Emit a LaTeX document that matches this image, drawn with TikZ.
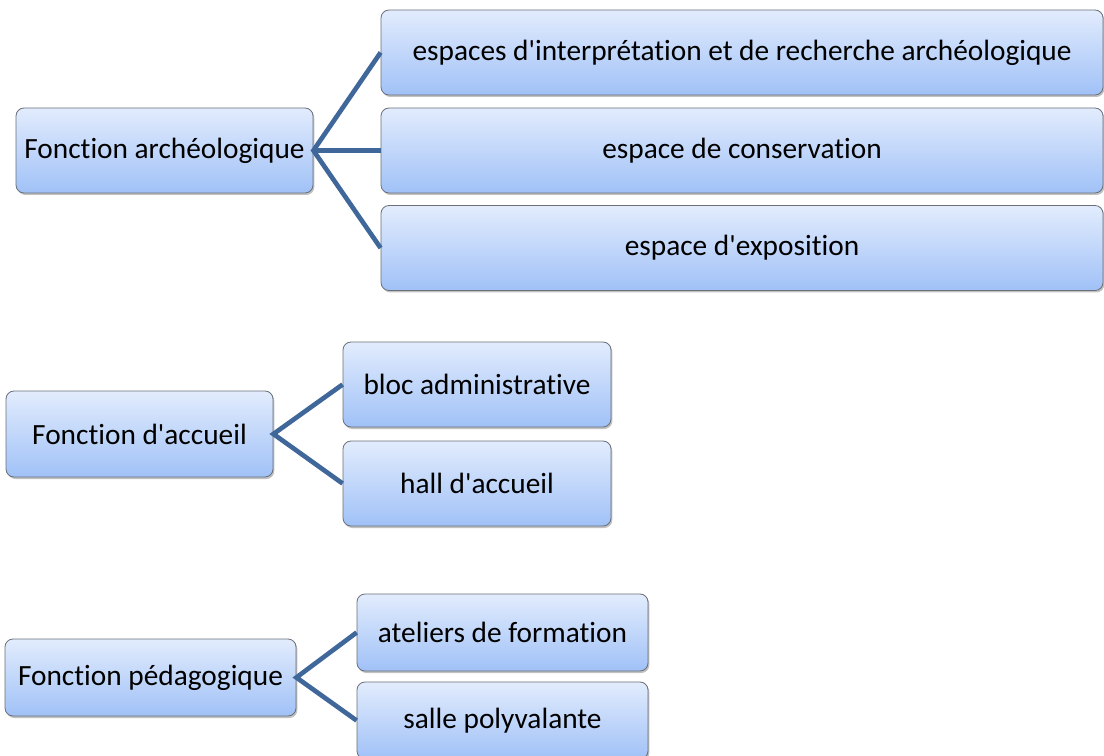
\documentclass[tikz,border=0pt]{standalone}
\usepackage{fontspec}
\setmainfont{Carlito}[Ligatures={TeXOff,CommonOff}]
\usetikzlibrary{shadows}
\definecolor{BoxTop}{RGB}{226,236,253}
\definecolor{BoxBot}{RGB}{160,193,247}
\definecolor{BoxLine}{RGB}{105,112,122}
\definecolor{LinkClr}{RGB}{64,103,153}

\begin{document}
\begin{tikzpicture}[x=0.75pt,y=-0.75pt,
  box/.style={rectangle,rounded corners=6pt,draw=BoxLine,line width=0.6pt,
    top color=BoxTop,bottom color=BoxBot,inner sep=0pt,
    drop shadow={shadow xshift=1pt,shadow yshift=-1.5pt,opacity=0.35,fill=black!70},
    font=\fontsize{22}{26}\selectfont},
  boxsize/.style 2 args={minimum width=#1*0.75pt,minimum height=#2*0.75pt},
  link/.style={draw=LinkClr,line width=3.5pt}]
\useasboundingbox (0,0) rectangle (1104,756);

% fonction archeologique
\node[box,boxsize={297}{85}] (arch) at (164.5,150.5) {Fonction archéologique};
\node[box,boxsize={722}{85}] (interp) at (742,52.5) {espaces d'interprétation et de recherche archéologique};
\node[box,boxsize={722}{85}] (conserv) at (742,150.5) {espace de conservation};
\node[box,boxsize={722}{85}] (expo) at (742,248) {espace d'exposition};

% fonction d'accueil
\node[box,boxsize={267}{86}] (accueil) at (139.5,434) {Fonction d'accueil};
\node[box,boxsize={268}{85}] (admin) at (477,384.5) {bloc administrative};
\node[box,boxsize={268}{85}] (hall) at (477,483.5) {hall d'accueil};

% fonction pedagogique
\node[box,boxsize={291}{77}] (peda) at (150.5,677.5) {Fonction pédagogique};
\node[box,boxsize={291}{77}] (atel) at (502.5,632.5) {ateliers de formation};
\node[box,boxsize={291}{77}] (salle) at (502.5,720.5) {salle polyvalante};

\draw[link] (interp.west) -- (arch.east) -- (expo.west);
\draw[link] (arch.east) -- (conserv.west);
\draw[link] (admin.west) -- (accueil.east) -- (hall.west);
\draw[link] (atel.west) -- (peda.east) -- (salle.west);

\end{tikzpicture}
\end{document}
